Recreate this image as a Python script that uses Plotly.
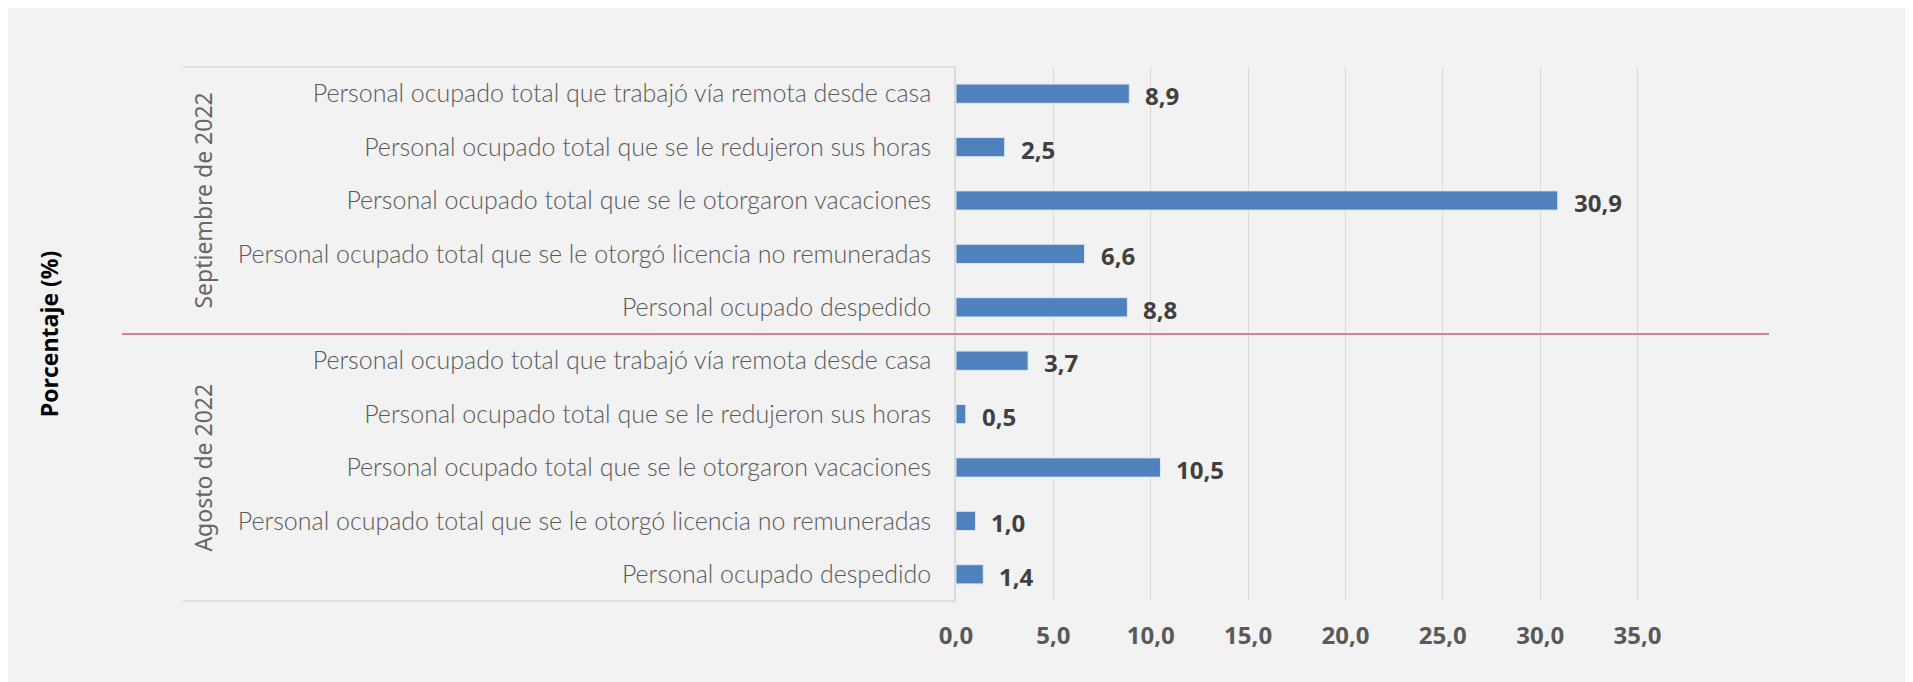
import plotly.graph_objects as go

# ---- data ----
categories = [
    "Personal ocupado despedido",
    "Personal ocupado total que se le otorgó licencia no remuneradas",
    "Personal ocupado total que se le otorgaron vacaciones",
    "Personal ocupado total que se le redujeron sus horas",
    "Personal ocupado total que trabajó vía remota desde casa",
]
groups = ["Agosto de 2022", "Septiembre de 2022"]
agosto_values = [1.4, 1.0, 10.5, 0.5, 3.7]
septiembre_values = [8.8, 6.6, 30.9, 2.5, 8.9]
x_ticks = [0, 5, 10, 15, 20, 25, 30, 35]
axis_title = "Porcentaje (%)"

# ---- layout geometry (page pixels; page body has an 8px margin) ----
OFF = 8
W, H = 1913 - OFF, 682 - OFF
PL, PR, PT, PB = 956.2 - OFF, 1769.5 - OFF, 66.7 - OFF, 600.7 - OFF
pw, ph = PR - PL, PB - PT

def px(x):
    return (x - OFF - PL) / pw

values = agosto_values + septiembre_values
labels = categories + categories
ypos = list(range(len(values)))
xmax = 41.75

BAR = "#4f81bd"
GRID = "#d9d9d9"
TXT = "#595959"

fig = go.Figure()
fig.add_trace(go.Bar(
    x=values, y=ypos, orientation="h",
    marker=dict(color=BAR, line=dict(color="#dce6f2", width=1)),
    width=0.36, hoverinfo="skip",
))

annotations = []
for v, y in zip(values, ypos):
    annotations.append(dict(
        x=v, y=y, xref="x", yref="y", text=f"{v:.1f}".replace(".", ","),
        showarrow=False, xanchor="left", yanchor="middle", xshift=14, yshift=-2,
        font=dict(family="Open Sans", size=24, color="#404040", weight="bold"),
    ))
n = len(categories)
for gi, g in enumerate(groups):
    center = gi * n + (n - 1) / 2
    annotations.append(dict(
        x=px(202), y=center, xref="paper", yref="y", text=g, showarrow=False,
        textangle=-90, xanchor="center", yanchor="middle",
        font=dict(family="Noto Sans", size=23, color="#666666"),
    ))
annotations.append(dict(
    x=px(49), y=0.5, xref="paper", yref="paper", text=axis_title, showarrow=False,
    textangle=-90, xanchor="center", yanchor="middle",
    font=dict(family="Open Sans", size=23, color="#000000", weight="bold"),
))

shapes = [
    # category box lines
    dict(type="line", xref="paper", yref="paper", x0=px(182.5), x1=0, y0=1, y1=1,
         line=dict(color=GRID, width=1.5)),
    dict(type="line", xref="paper", yref="paper", x0=px(182.5), x1=0, y0=0, y1=0,
         line=dict(color=GRID, width=1.5)),
    # group separator
    dict(type="line", xref="paper", yref="paper", x0=px(122), x1=1, y0=0.5, y1=0.5,
         line=dict(color="#d08098", width=2)),
]

fig.update_layout(
    width=W, height=H,
    margin=dict(l=PL, r=W - PR, t=PT, b=H - PB, pad=0),
    paper_bgcolor="#f2f2f2", plot_bgcolor="#f2f2f2",
    separators=",.",
    showlegend=False,
    bargap=0.64,
    xaxis=dict(
        range=[0, xmax], tickvals=x_ticks, tickformat=".1f",
        showgrid=True, gridcolor=GRID, gridwidth=1.3, zeroline=False,
        showline=False, ticks="", ticklabelstandoff=18,
        tickfont=dict(family="Open Sans", size=24, color=TXT, weight="bold"),
    ),
    yaxis=dict(
        range=[-0.5, len(values) - 0.5], tickvals=ypos, ticktext=labels,
        showgrid=False, zeroline=False, showline=True, linecolor=GRID, linewidth=1.5,
        ticks="", ticklabelstandoff=18,
        tickfont=dict(family="Lato", size=25, color=TXT, weight=300),
    ),
    annotations=annotations,
    shapes=shapes,
)

fig.write_html("out.html")
